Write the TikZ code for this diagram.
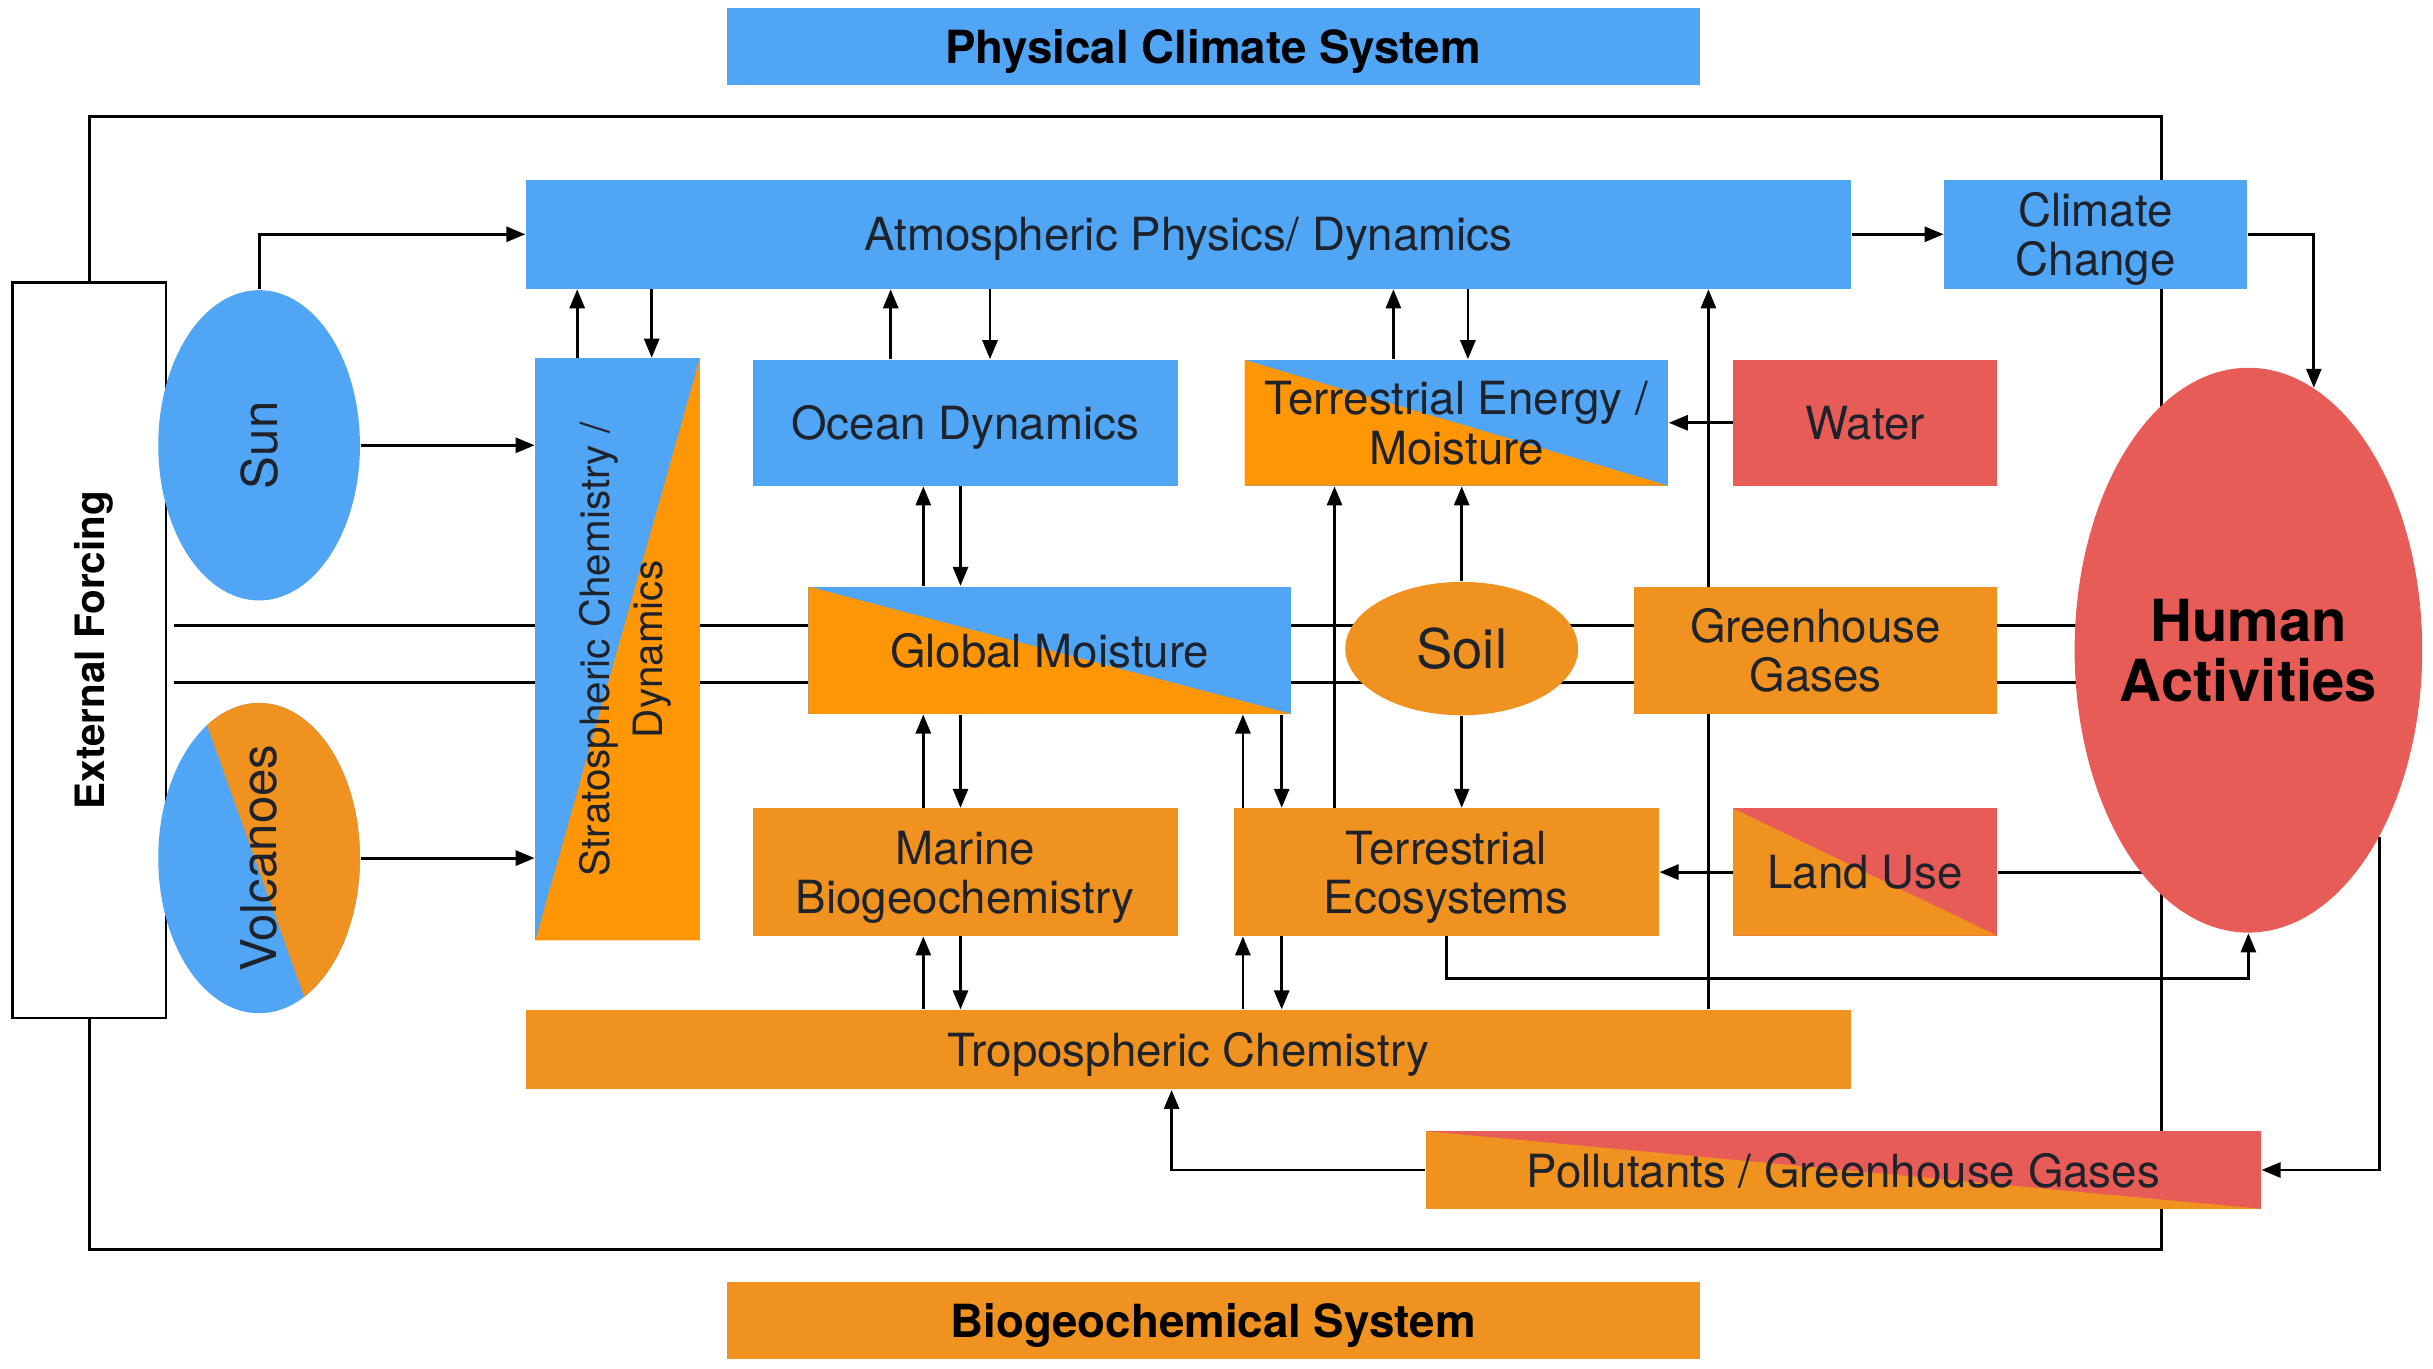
\documentclass[tikz,border=0pt]{standalone}
\usepackage{fontspec}
\setmainfont{TeX Gyre Heros}
\usepackage{graphicx}
\usetikzlibrary{shapes.geometric,arrows.meta}
\definecolor{skyblue}{RGB}{80,165,245}
\definecolor{amber}{RGB}{240,146,32}
\definecolor{brightamber}{RGB}{255,150,5}
\definecolor{coral}{RGB}{232,92,88}
\definecolor{inkgrey}{RGB}{30,34,42}
\pgfdeclarelayer{background}
\pgfsetlayers{background,main}

\begin{document}
\begin{tikzpicture}[
    box/.style={rectangle,inner sep=0pt,text depth=0pt,align=center,text=inkgrey,font=\fontsize{13}{14}\selectfont},
    blob/.style={ellipse,inner sep=-1mm,text depth=0pt,align=center,text=inkgrey},
    lowerleft/.style={path picture={\fill[#1] (path picture bounding box.north west) -- (path picture bounding box.south east) -- (path picture bounding box.south west) -- cycle;}},
    lowerright/.style={path picture={\fill[#1] (path picture bounding box.north east) -- (path picture bounding box.south east) -- (path picture bounding box.south west) -- cycle;}},
    wire/.style={line width=0.8pt},
    link/.style={wire,-{Triangle[length=1.9mm,width=1.5mm]}}]
    \useasboundingbox (0,0) rectangle (243.3mm,-136.9mm);

    \node[box,fill=skyblue,minimum width=97.3mm,minimum height=7.76mm,text=black,font=\fontsize{13}{14}\selectfont\bfseries] (physical) at (121.3mm,-4.66mm) {Physical Climate System};
    \node[box,fill=amber,minimum width=97.3mm,minimum height=7.76mm,text=black,font=\fontsize{13}{14}\selectfont\bfseries] (biogeo) at (121.3mm,-132.05mm) {Biogeochemical System};

    \node[box,fill=white,draw=black,line width=0.8pt,minimum width=15.36mm,minimum height=73.55mm,text=black] (forcing) at (8.92mm,-65.02mm) {\rotatebox{90}{\raisebox{0pt}[\height][0pt]{\fontsize{11.5}{13}\selectfont\bfseries External Forcing}}};
    \node[blob,fill=skyblue,minimum width=20.17mm,minimum height=31.03mm] (sun) at (25.91mm,-44.53mm) {\rotatebox{90}{\fontsize{14}{16}\selectfont Sun}};
    \node[blob,fill=skyblue,minimum width=20.17mm,minimum height=31.03mm,
      path picture={\fill[amber] ([xshift=-6mm]path picture bounding box.north) -- ([xshift=5.1mm]path picture bounding box.south) -- (path picture bounding box.south east) -- (path picture bounding box.north east) -- cycle;}] (volcanoes) at (25.91mm,-85.81mm) {\rotatebox{90}{\fontsize{14}{16}\selectfont Volcanoes}};
    \node[box,fill=skyblue,lowerright=brightamber,minimum width=16.45mm,minimum height=58.19mm,font=\fontsize{11.5}{15}\selectfont] (strato) at (61.76mm,-64.94mm) {\rotatebox{90}{\raisebox{0pt}[\height][0pt]{\begin{tabular}[b]{@{}c@{}}Stratospheric Chemistry /\\Dynamics\end{tabular}}}};

    \node[box,fill=skyblue,minimum width=132.52mm,minimum height=10.86mm] (atmos) at (118.86mm,-23.43mm) {Atmospheric Physics/ Dynamics};
    \node[box,fill=skyblue,minimum width=30.26mm,minimum height=10.86mm] (climate) at (209.56mm,-23.43mm) {Climate\\Change};

    \node[box,fill=skyblue,minimum width=42.52mm,minimum height=12.57mm] (ocean) at (96.52mm,-42.28mm) {Ocean Dynamics};
    \node[box,fill=skyblue,lowerleft=brightamber,minimum width=42.36mm,minimum height=12.57mm] (energy) at (145.63mm,-42.28mm) {Terrestrial Energy /\\Moisture};
    \node[box,fill=coral,minimum width=26.38mm,minimum height=12.57mm] (water) at (186.51mm,-42.28mm) {Water};

    \node[box,fill=skyblue,lowerleft=brightamber,minimum width=48.26mm,minimum height=12.72mm] (moisture) at (104.97mm,-65.02mm) {Global Moisture};
    \node[blob,fill=amber,minimum width=23.28mm,minimum height=13.34mm,font=\fontsize{15.5}{17}\selectfont] (soil) at (146.17mm,-64.86mm) {Soil};
    \node[box,fill=amber,minimum width=36.31mm,minimum height=12.72mm] (ghg) at (181.55mm,-65.02mm) {Greenhouse\\Gases};
    \node[blob,fill=coral,minimum width=34.76mm,minimum height=56.48mm,text=black,font=\fontsize{16.5}{17}\selectfont\bfseries] (human) at (224.84mm,-65.02mm) {Human\\Activities};

    \node[box,fill=amber,minimum width=42.52mm,minimum height=12.72mm] (marine) at (96.52mm,-87.21mm) {Marine\\Biogeochemistry};
    \node[box,fill=amber,minimum width=42.52mm,minimum height=12.72mm] (eco) at (144.62mm,-87.21mm) {Terrestrial\\Ecosystems};
    \node[box,fill=coral,lowerleft=amber,minimum width=26.38mm,minimum height=12.72mm] (landuse) at (186.51mm,-87.21mm) {Land Use};

    \node[box,fill=amber,minimum width=132.52mm,minimum height=7.91mm] (trop) at (118.86mm,-104.97mm) {Tropospheric Chemistry};
    \node[box,fill=coral,lowerleft=amber,minimum width=83.48mm,minimum height=7.76mm] (poll) at (184.34mm,-117.0mm) {Pollutants / Greenhouse Gases};

    \begin{pgfonlayer}{background}
      \coordinate (frameNE) at (216.15mm,-11.64mm);
      \coordinate (frameSE) at (216.15mm,-124.91mm);
      \draw[wire] (forcing.north) |- (frameNE) -- (frameSE) -| (forcing.south);

      \coordinate (busA) at (17.38mm,-62.53mm);
      \coordinate (busB) at (17.38mm,-68.27mm);
      \draw[wire] (busA) -- (busA -| human.center);
      \draw[wire] (busB) -- (busB -| human.center);

      \draw[link] (sun.north) |- (atmos.west);
      \draw[link] (sun.east) -- (sun.east -| strato.west);
      \draw[link] (volcanoes.east) -- (volcanoes.east -| strato.west);

      \foreach \lo/\hi/\xu/\xd in {strato/atmos/57.72/65.17, ocean/atmos/89.07/99.0, energy/atmos/139.34/146.79,
          moisture/ocean/92.33/96.05, marine/moisture/92.33/96.05, trop/marine/92.33/96.05,
          eco/moisture/124.29/128.17, trop/eco/124.29/128.17}{
        \path (\xu mm,0) coordinate (up) (\xd mm,0) coordinate (dn);
        \draw[link] (up |- \lo.north) -- (up |- \hi.south);
        \draw[link] (dn |- \hi.south) -- (dn |- \lo.north);
      }

      \coordinate (ecoUp) at (133.45mm,0);
      \coordinate (ghgUp) at (170.84mm,0);
      \draw[link] (ecoUp |- eco.north) -- (ecoUp |- energy.south);
      \draw[link] (ghgUp |- trop.north) -- (ghgUp |- atmos.south);
      \draw[link] (soil.north) -- (soil.north |- energy.south);
      \draw[link] (soil.south) -- (soil.south |- eco.north);
      \draw[link] (water.west) -- (water.west -| energy.east);
      \draw[link] (landuse.west) -- (landuse.west -| eco.east);
      \draw[wire] (landuse.east) -- (landuse.east -| human.center);

      \draw[link] (atmos.east) -- (climate.west);
      \draw[link] (climate.east) -| (human.76.4);
      \draw[link] (eco.south) -- ++(0,-4.19mm) -| (human.south);
      \draw[link] (human.305.7) |- (poll.east);
      \draw[link] (poll.west) -| ([xshift=-1.7mm]trop.south);
    \end{pgfonlayer}
  \end{tikzpicture}
\end{document}
